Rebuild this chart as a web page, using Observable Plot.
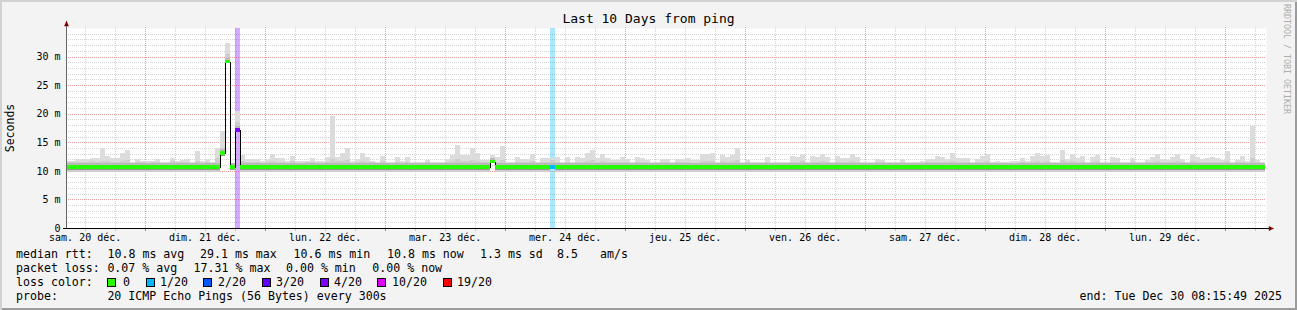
<!DOCTYPE html>
<html><head><meta charset="utf-8">
<script src="https://cdn.jsdelivr.net/npm/d3@7"></script>
<script src="https://cdn.jsdelivr.net/npm/@observablehq/plot@0.6"></script>
<style>
body{margin:0;background:#fff;}
#wrap{position:relative;width:1297px;height:310px;background:#f3f3f3;overflow:hidden;font-family:"DejaVu Sans Mono",monospace;color:#000;box-shadow:inset 2px 2px 0 #d2d2d2, inset -2px -2px 0 #9c9c9c;}
#wrap svg{position:absolute;left:0;top:0;}
.t{position:absolute;white-space:pre;font-size:11.6px;line-height:14px;}
.box{position:absolute;width:7px;height:7px;border:1px solid #000;}
</style></head><body><div id="wrap"></div>
<script>
// ---- data (hourly bins starting Sat 20 Dec 08:00) ----
const smokeMax = [
11.8,11.8,12.1,12.1,12.1,12.3,12.3,14.0,12.6,12.2, 12.2,13.2,13.6,11.5,12.0,11.8,11.8,11.8,12.0,11.6,
11.6,12.3,11.7,11.9,12.1,11.5,13.4,11.7,12.0,11.5, 14.0,16.9,32.3,11.2,20.4,12.7,12.1,12.1,12.1,11.8,
12.1,13.0,12.2,12.2,11.7,12.6,11.7,11.7,11.7,12.2, 11.7,11.7,12.4,19.6,12.4,13.1,14.0,11.7,12.0,13.1,
12.4,11.8,11.6,12.6,11.6,11.6,12.4,11.8,12.4,11.6, 11.6,11.5,11.9,11.5,11.5,11.5,12.0,12.8,14.6,12.8,
12.8,14.0,13.1,11.9,11.9,12.8,12.4,14.3,11.6,11.6, 12.5,12.0,12.0,12.9,11.6,12.2,12.2,12.2,12.5,11.6,
12.4,11.6,12.4,12.2,13.2,13.7,12.2,12.9,12.2,11.9, 11.9,12.4,12.0,11.6,12.4,12.2,11.9,11.6,11.6,12.0,
12.0,11.6,12.1,12.1,12.3,11.9,11.9,13.0,13.0,13.2, 11.6,12.8,12.5,12.8,14.0,11.6,11.9,11.5,11.6,11.5,
12.5,11.6,11.5,11.6,11.5,12.6,12.5,13.0,11.6,12.6, 12.5,13.0,12.5,11.5,12.6,12.2,12.2,13.0,12.5,11.6,
11.5,11.5,12.0,11.9,11.6,11.5,11.6,12.0,11.6,11.5, 11.6,11.7,12.0,12.0,12.6,12.5,12.0,13.2,12.2,12.2,
12.2,11.5,12.0,12.6,13.0,11.5,11.7,11.5,11.6,11.7, 11.7,12.3,11.7,12.6,13.2,12.6,12.8,11.6,11.6,13.7,
12.1,13.0,12.3,12.6,11.6,12.4,12.8,11.5,11.5,12.4, 12.3,11.6,11.5,12.3,11.6,11.6,11.9,12.4,13.0,12.1,
11.9,12.4,13.0,12.1,11.6,13.0,12.5,12.1,12.2,12.5, 12.2,11.9,13.5,11.6,11.9,12.6,11.8,17.9,11.9,11.6];
const smokeMid = [
11.5,11.5,11.6,11.5,11.6,11.7,11.6,11.8,11.7,11.6, 11.5,11.8,11.9,11.4,11.5,11.5,11.4,11.5,11.6,11.4,
11.4,11.7,11.5,11.5,11.6,11.3,11.8,11.4,11.5,11.3, 12.2,14.0,30.5,11.0,18.5,11.8,11.6,11.5,11.6,11.4,
11.5,11.8,11.6,11.6,11.4,11.7,11.4,11.4,11.5,11.6, 11.4,11.4,11.6,12.0,11.7,11.8,11.9,11.4,11.5,11.8,
11.6,11.5,11.4,11.7,11.4,11.4,11.6,11.4,11.6,11.4, 11.4,11.3,11.5,11.3,11.3,11.3,11.5,11.7,12.0,11.8,
11.7,11.9,11.8,11.5,11.5,12.1,11.6,11.9,11.4,11.4, 11.6,11.5,11.5,11.7,11.4,11.6,11.5,11.9,11.6,11.4,
11.6,11.4,11.6,11.5,11.8,11.9,11.6,11.7,11.6,11.5, 11.5,11.6,11.5,11.4,11.6,11.5,11.5,11.4,11.4,11.5,
11.5,11.4,11.5,11.5,11.6,11.4,11.4,11.7,11.7,11.8, 11.4,11.7,11.6,11.7,11.9,11.4,11.5,11.3,11.4,11.3,
11.6,11.4,11.3,11.4,11.3,11.6,11.6,11.7,11.4,11.6, 11.6,11.7,11.6,11.3,11.6,11.5,11.5,11.7,11.6,11.4,
11.3,11.3,11.5,11.5,11.4,11.3,11.4,11.5,11.4,11.3, 11.4,11.4,11.5,11.5,11.6,11.6,11.5,11.8,11.5,11.5,
11.5,11.3,11.5,11.6,11.7,11.3,11.4,11.3,11.4,11.4, 11.4,11.6,11.4,11.6,11.8,11.6,11.7,11.4,11.4,11.9,
11.5,11.7,11.6,11.6,11.4,11.6,11.7,11.3,11.3,11.6, 11.6,11.4,11.3,11.6,11.4,11.4,11.5,11.6,11.7,11.5,
11.5,11.6,11.7,11.5,11.4,11.7,11.6,11.5,11.5,11.6, 11.5,11.5,11.8,11.4,11.5,11.6,11.4,12.3,11.5,11.4];
const smokeMin = [
9.8,9.8,9.8,9.8,9.8,9.8,9.8,9.8,9.8,9.8, 9.8,9.8,9.8,9.8,9.8,9.8,9.8,9.8,9.8,9.8,
9.8,9.8,9.8,9.8,9.8,9.8,9.8,9.8,9.8,9.8, 9.8,12.6,28.8,10.1,17.1,9.8,9.8,9.8,9.8,9.8,
9.8,9.8,9.8,9.8,9.8,9.8,9.8,9.8,9.8,9.8, 9.8,9.8,9.8,9.8,9.8,9.8,9.8,9.8,9.8,9.8,
9.8,9.8,9.8,9.8,9.8,9.8,9.8,9.8,9.8,9.8, 9.8,9.8,9.8,9.8,9.8,9.8,9.8,9.8,9.8,9.8,
9.8,9.8,9.8,9.8,9.8,11.4,9.8,9.8,9.8,9.8, 9.8,9.8,9.8,9.8,9.8,9.8,9.8,10.95,9.8,9.8,
9.8,9.8,9.8,9.8,9.8,9.8,9.8,9.8,9.8,9.8, 9.8,9.8,9.8,9.8,9.8,9.8,9.8,9.8,9.8,9.8,
9.8,9.8,9.8,9.8,9.8,9.8,9.8,9.8,9.8,9.8, 9.8,9.8,9.8,9.8,9.8,9.8,9.8,9.8,9.8,9.8,
9.8,9.8,9.8,9.8,9.8,9.8,9.8,9.8,9.8,9.8, 9.8,9.8,9.8,9.8,9.8,9.8,9.8,9.8,9.8,9.8,
9.8,9.8,9.8,9.8,9.8,9.8,9.8,9.8,9.8,9.8, 9.8,9.8,9.8,9.8,9.8,9.8,9.8,9.8,9.8,9.8,
9.8,9.8,9.8,9.8,9.8,9.8,9.8,9.8,9.8,9.8, 9.8,9.8,9.8,9.8,9.8,9.8,9.8,9.8,9.8,9.8,
9.8,9.8,9.8,9.8,9.8,9.8,9.8,9.8,9.8,9.8, 9.8,9.8,9.8,9.8,9.8,9.8,9.8,9.8,9.8,9.8,
9.8,9.8,9.8,9.8,9.8,9.8,9.8,9.8,9.8,9.8, 9.8,9.8,9.8,9.8,9.8,9.8,9.8,9.8,9.8,9.8];
const median = [
10.6,10.6,10.6,10.6,10.6,10.6,10.6,10.6,10.6,10.6, 10.6,10.6,10.6,10.6,10.6,10.6,10.6,10.6,10.6,10.6,
10.6,10.6,10.6,10.6,10.6,10.6,10.6,10.6,10.6,10.6, 10.6,13.1,29.1,10.6,17.1,10.6,10.6,10.6,10.6,10.6,
10.6,10.6,10.6,10.6,10.6,10.6,10.6,10.6,10.6,10.6, 10.6,10.6,10.6,10.6,10.6,10.6,10.6,10.6,10.6,10.6,
10.6,10.6,10.6,10.6,10.6,10.6,10.6,10.6,10.6,10.6, 10.6,10.6,10.6,10.6,10.6,10.6,10.6,10.6,10.6,10.6,
10.6,10.6,10.6,10.6,10.6,11.6,10.6,10.6,10.6,10.6, 10.6,10.6,10.6,10.6,10.6,10.6,10.6,10.6,10.6,10.6,
10.6,10.6,10.6,10.6,10.6,10.6,10.6,10.6,10.6,10.6, 10.6,10.6,10.6,10.6,10.6,10.6,10.6,10.6,10.6,10.6,
10.6,10.6,10.6,10.6,10.6,10.6,10.6,10.6,10.6,10.6, 10.6,10.6,10.6,10.6,10.6,10.6,10.6,10.6,10.6,10.6,
10.6,10.6,10.6,10.6,10.6,10.6,10.6,10.6,10.6,10.6, 10.6,10.6,10.6,10.6,10.6,10.6,10.6,10.6,10.6,10.6,
10.6,10.6,10.6,10.6,10.6,10.6,10.6,10.6,10.6,10.6, 10.6,10.6,10.6,10.6,10.6,10.6,10.6,10.6,10.6,10.6,
10.6,10.6,10.6,10.6,10.6,10.6,10.6,10.6,10.6,10.6, 10.6,10.6,10.6,10.6,10.6,10.6,10.6,10.6,10.6,10.6,
10.6,10.6,10.6,10.6,10.6,10.6,10.6,10.6,10.6,10.6, 10.6,10.6,10.6,10.6,10.6,10.6,10.6,10.6,10.6,10.6,
10.6,10.6,10.6,10.6,10.6,10.6,10.6,10.6,10.6,10.6, 10.6,10.6,10.6,10.6,10.6,10.6,10.6,10.6,10.6,10.6];
// loss class per bin (index into lossColors)
const lossClass = [
0,0,0,0,0,0,0,0,0,0, 0,0,0,0,0,0,0,0,0,0,
0,0,0,0,0,0,0,0,0,0, 0,0,0,0,4,0,0,0,0,0,
0,0,0,0,0,0,0,0,0,0, 0,0,0,0,0,0,0,0,0,0,
0,0,0,0,0,0,0,0,0,0, 0,0,0,0,0,0,0,0,0,0,
0,0,0,0,0,0,0,0,0,0, 0,0,0,0,0,0,0,1,0,0,
0,0,0,0,0,0,0,0,0,0, 0,0,0,0,0,0,0,0,0,0,
0,0,0,0,0,0,0,0,0,0, 0,0,0,0,0,0,0,0,0,0,
0,0,0,0,0,0,0,0,0,0, 0,0,0,0,0,0,0,0,0,0,
0,0,0,0,0,0,0,0,0,0, 0,0,0,0,0,0,0,0,0,0,
0,0,0,0,0,0,0,0,0,0, 0,0,0,0,0,0,0,0,0,0,
0,0,0,0,0,0,0,0,0,0, 0,0,0,0,0,0,0,0,0,0,
0,0,0,0,0,0,0,0,0,0, 0,0,0,0,0,0,0,0,0,0];
const lossColors = ["#26ff00","#00b8ff","#0059ff","#5e00ff","#7e00ff","#dd00ff","#ff0000"];
const lossLabels = ["0","1/20","2/20","3/20","4/20","10/20","19/20"];
const dayLabels = ["sam. 20 déc.","dim. 21 déc.","lun. 22 déc.","mar. 23 déc.","mer. 24 déc.","jeu. 25 déc.","ven. 26 déc.","sam. 27 déc.","dim. 28 déc.","lun. 29 déc."];
const dayNumbers = [20,21,22,23,24,25,26,27,28,29];
const yTicks = [0,5,10,15,20,25,30];

// ---- build ----
const T0 = Date.UTC(2025,11,20,8,15,49), T1 = Date.UTC(2025,11,30,8,15,49);
const B0 = Date.UTC(2025,11,20,8,0,0), H = 3600e3;
const bins = smokeMax.map((mx,k)=>({x1:new Date(B0+k*H), x2:new Date(B0+(k+1)*H), max:mx, mid:smokeMid[k], lo:smokeMin[k], med:median[k], loss:lossClass[k]}));
const lossBins = bins.filter(b=>b.loss>0);
const stepPts = bins.flatMap(b=>[{t:b.x1,v:b.med},{t:b.x2,v:b.med}]);
const noon = dayNumbers.map(d=>new Date(Date.UTC(2025,11,d,12)));
const labelMap = new Map(noon.map((d,i)=>[+d, dayLabels[i]]));
const six = d3.utcHour.every(6).range(new Date(T0), new Date(T1));
const majT = six.filter(d=>d.getUTCHours()===0), minT = six.filter(d=>d.getUTCHours()!==0);
const yMin = d3.range(1,35).filter(v=>v%5!==0), yMaj = [5,10,15,20,25,30];
const px = 720e3; // ms of time per pixel
const triRight = {draw(c,s){const r=Math.sqrt(s)/2;c.moveTo(r,0);c.lineTo(-r,-r*0.9);c.lineTo(-r,r*0.9);c.closePath();}};
const triUp = {draw(c,s){const r=Math.sqrt(s)/2;c.moveTo(0,-r);c.lineTo(-r*0.9,r);c.lineTo(r*0.9,r);c.closePath();}};
const crisp = {shapeRendering:"crispEdges"};

const chart = Plot.plot({
  width:1297, height:245, marginLeft:66, marginRight:31, marginTop:28, marginBottom:17,
  x:{type:"utc", domain:[new Date(T0), new Date(T1)]},
  y:{domain:[0,35]},
  style:{background:"transparent", fontFamily:"DejaVu Sans Mono, monospace", fontSize:"10px", overflow:"visible", color:"#000"},
  marks:[
    Plot.frame({fill:"#ffffff", stroke:null}),
    Plot.ruleY(yMin, {stroke:"#d4d4d4", strokeDasharray:"1,1", ...crisp}),
    Plot.ruleX(minT, {stroke:"#d4d4d4", strokeDasharray:"1,1", y1:0, y2:35.35, ...crisp}),
    Plot.ruleY(yMaj, {stroke:"#f0a0a0", strokeDasharray:"1,1", ...crisp}),
    Plot.ruleX(majT, {stroke:"#f0a0a0", strokeDasharray:"1,1", y1:0, y2:35.35, ...crisp}),
    Plot.rect(lossBins, {x1:"x1", x2:"x2", y1:0, y2:35, fill:d=>lossColors[d.loss], fillOpacity:0.33, clip:true, ...crisp}),
    Plot.rect(bins, {x1:"x1", x2:"x2", y1:"lo", y2:"max", fill:"#dcdcdc", clip:true, ...crisp}),
    Plot.rect(bins, {x1:"x1", x2:"x2", y1:"lo", y2:"mid", fill:"#cdcdcd", clip:true, ...crisp}),
    Plot.rect(bins, {x1:"x1", x2:"x2", y1:"med", y2:"med", insetTop:-4, fill:"#b9b9b9", clip:true, ...crisp}),
    Plot.rect(bins.filter(b=>b.lo < b.med-0.4), {x1:"x1", x2:"x2", y1:"med", y2:"med", insetBottom:-2.6, fill:"#959595", clip:true, ...crisp}),
    Plot.line(stepPts, {x:"t", y:"v", stroke:"#000", strokeWidth:1, clip:true, ...crisp}),
    Plot.rect(bins, {x1:"x1", x2:"x2", y1:"med", y2:"med", insetTop:-2, insetBottom:-1.6, fill:d=>lossColors[d.loss], clip:true, ...crisp}),
    // axes
    Plot.ruleX(minT, {y1:-0.5, y2:0, stroke:"#c0c0c0", ...crisp}),
    Plot.ruleX(majT, {y1:-0.5, y2:0, stroke:"#e07070", ...crisp}),
    Plot.ruleY([0], {x1:()=>new Date(T0-3*px), x2:()=>new Date(T1+3*px), stroke:"#000", ...crisp}),
    Plot.ruleX([new Date(T0)], {y1:0, y2:36.2, stroke:"#666", ...crisp}),
    Plot.dot([0], {x:()=>new Date(T1), y:0, dx:5, symbol:triRight, r:3, fill:"#800000", stroke:null}),
    Plot.dot([0], {x:()=>new Date(T0), y:35, dy:-5, symbol:triUp, r:3, fill:"#800000", stroke:null}),
    Plot.axisY(yTicks, {tickSize:0, tickPadding:6, tickFormat:d=>d===0?"0":d+" m", label:null, fontSize:10}),
    Plot.axisX(noon, {tickSize:0, tickPadding:5, tickFormat:d=>labelMap.get(+d), label:null, fontSize:10})
  ]
});
const wrap = document.getElementById("wrap");
wrap.appendChild(chart);

function txt(s, x, y, extra){const e=document.createElement("div");e.className="t";e.textContent=s;e.style.left=x+"px";e.style.top=y+"px";if(extra)Object.assign(e.style,extra);wrap.appendChild(e);return e;}
txt("Last 10 Days from ping", 0, 12, {width:"1297px", textAlign:"center", fontSize:"13px"});
txt("Seconds", -15, 121, {fontSize:"11.5px", transform:"rotate(-90deg)", width:"50px", textAlign:"center"});
txt("RRDTOOL / TOBI OETIKER", 1282, 4, {fontSize:"8.3px", writingMode:"vertical-rl", color:"#adadad", lineHeight:"10px"});
// legend
const r1=247, r2=261, r3=275, r4=289;
txt("median rtt:",16,r1); txt("10.8 ms avg",107.5,r1); txt("29.1 ms max",200,r1); txt("10.6 ms min",293.5,r1);
txt("10.8 ms now",387,r1); txt("1.3 ms sd",480,r1); txt("8.5",557,r1); txt("am/s",600,r1);
txt("packet loss:",16,r2); txt("0.07 % avg",107.4,r2); txt("17.31 % max",193.6,r2); txt("0.00 % min",286,r2); txt("0.00 % now",372.3,r2);
txt("loss color:",16,r3);
const boxX=[107,146,203,262,320,377,443], labX=[123,160,218,276,334,392,457];
lossColors.forEach((c,i)=>{const b=document.createElement("div");b.className="box";b.style.left=boxX[i]+"px";b.style.top=(r3+3)+"px";b.style.background=c;wrap.appendChild(b);txt(lossLabels[i],labX[i],r3);});
txt("probe:",16,r4); txt("20 ICMP Echo Pings (56 Bytes) every 300s",107.4,r4);
txt("end: Tue Dec 30 08:15:49 2025",0,r4,{left:"auto",right:"15px"});
</script></body></html>
